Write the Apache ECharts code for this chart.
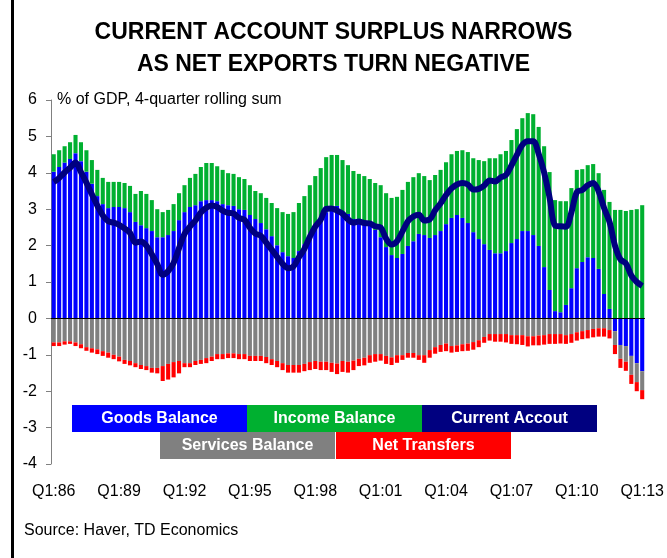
<!DOCTYPE html>
<html>
<head>
<meta charset="utf-8">
<script src="https://cdn.jsdelivr.net/npm/echarts@6/dist/echarts.min.js"></script>
<style>
  html, body { margin: 0; padding: 0; background: #fff; }
  #chart { width: 667px; height: 558px; }
</style>
</head>
<body>
<div id="chart"></div>
<script>
// quarterly categories, Q1:86 .. Q1:13
const years = ['86','87','88','89','90','91','92','93','94','95','96','97','98','99',
  '00','01','02','03','04','05','06','07','08','09','10','11','12','13']
const quarters = ['Q1','Q2','Q3','Q4']
const categories = []
years.forEach(y => quarters.forEach(q => categories.push(q + ':' + y)))
categories.length = 109

const yTicks = { min: -4, max: 6, interval: 1 }

// % of GDP, 4-quarter rolling sum
const goods = [
  4.03,4.16,4.28,4.38,4.54,4.32,4.03,3.70,3.36,3.14,3.03,3.06,
  3.06,3.03,2.92,2.65,2.56,2.48,2.40,2.23,2.23,2.29,2.40,2.70,
  2.92,3.06,3.11,3.22,3.25,3.25,3.22,3.14,3.11,3.09,3.00,2.98,
  2.84,2.73,2.62,2.45,2.26,2.01,1.82,1.71,1.66,1.85,2.04,2.32,
  2.54,2.76,2.92,3.09,3.09,2.87,2.87,2.73,2.62,2.62,2.59,2.43,
  2.23,1.96,1.74,1.66,1.77,1.99,2.12,2.32,2.29,2.21,2.29,2.40,
  2.59,2.76,2.84,2.76,2.62,2.37,2.18,2.04,1.88,1.79,1.79,1.85,
  2.07,2.18,2.40,2.40,2.29,1.99,1.41,0.78,0.20,0.17,0.37,0.83,
  1.38,1.55,1.68,1.66,1.36,0.67,0.26,-0.35,-0.73,-0.76,-1.03,-1.23,
  -1.45
]
const income = [
  0.48,0.46,0.45,0.46,0.50,0.52,0.59,0.65,0.72,0.72,0.72,0.69,
  0.69,0.69,0.72,0.77,0.94,0.94,0.85,0.77,0.69,0.69,0.74,0.74,
  0.74,0.80,0.86,0.94,1.02,1.02,0.96,0.94,0.88,0.88,0.88,0.85,
  0.82,0.77,0.82,0.86,0.91,1.02,1.10,1.16,1.26,1.32,1.32,1.34,
  1.37,1.37,1.51,1.40,1.40,1.48,1.34,1.32,1.35,1.29,1.24,1.29,
  1.43,1.48,1.57,1.68,1.76,1.76,1.76,1.67,1.62,1.59,1.65,1.68,
  1.70,1.75,1.76,1.86,1.95,2.03,2.17,2.28,2.52,2.61,2.72,2.75,
  2.83,3.02,3.10,3.24,3.32,3.27,3.32,3.24,3.05,3.05,2.85,2.75,
  2.70,2.55,2.53,2.58,2.63,2.86,2.94,2.98,2.98,2.95,2.98,3.00,
  3.11
]
const services = [
  -0.66,-0.66,-0.63,-0.63,-0.66,-0.71,-0.79,-0.82,-0.85,-0.90,-0.94,-1.00,
  -1.05,-1.14,-1.17,-1.23,-1.28,-1.31,-1.36,-1.36,-1.31,-1.25,-1.20,-1.17,
  -1.23,-1.23,-1.17,-1.14,-1.09,-1.05,-0.98,-0.98,-0.96,-0.96,-0.98,-0.98,
  -1.03,-1.03,-1.03,-1.06,-1.12,-1.17,-1.23,-1.28,-1.28,-1.28,-1.25,-1.20,
  -1.17,-1.19,-1.19,-1.22,-1.24,-1.17,-1.19,-1.16,-1.11,-1.08,-1.01,-0.98,
  -0.98,-1.03,-1.07,-1.01,-1.01,-0.95,-0.95,-1.01,-1.01,-0.87,-0.79,-0.73,
  -0.69,-0.76,-0.74,-0.71,-0.69,-0.65,-0.60,-0.51,-0.43,-0.43,-0.43,-0.43,
  -0.46,-0.46,-0.46,-0.49,-0.49,-0.47,-0.46,-0.43,-0.43,-0.43,-0.46,-0.43,
  -0.38,-0.35,-0.32,-0.29,-0.27,-0.27,-0.32,-0.38,-0.38,-0.43,-0.52,-0.52,
  -0.52
]
const transfers = [
  -0.10,-0.10,-0.09,-0.07,-0.10,-0.11,-0.10,-0.12,-0.13,-0.13,-0.14,-0.12,
  -0.13,-0.11,-0.12,-0.11,-0.11,-0.11,-0.13,-0.15,-0.41,-0.43,-0.42,-0.34,
  -0.11,-0.11,-0.11,-0.11,-0.14,-0.12,-0.14,-0.14,-0.13,-0.13,-0.14,-0.14,
  -0.14,-0.14,-0.14,-0.17,-0.16,-0.17,-0.19,-0.21,-0.21,-0.21,-0.20,-0.22,
  -0.22,-0.23,-0.23,-0.25,-0.29,-0.30,-0.30,-0.26,-0.20,-0.21,-0.21,-0.21,
  -0.18,-0.22,-0.21,-0.21,-0.13,-0.13,-0.13,-0.13,-0.21,-0.21,-0.18,-0.19,
  -0.21,-0.18,-0.18,-0.19,-0.20,-0.21,-0.19,-0.16,-0.18,-0.21,-0.21,-0.23,
  -0.24,-0.25,-0.27,-0.28,-0.25,-0.27,-0.26,-0.27,-0.27,-0.26,-0.24,-0.24,
  -0.23,-0.22,-0.23,-0.23,-0.23,-0.23,-0.23,-0.25,-0.25,-0.25,-0.25,-0.25,
  -0.25
]
const currentAccount = [
  3.75,3.86,4.01,4.14,4.28,4.02,3.73,3.41,3.10,2.83,2.67,2.63,
  2.57,2.47,2.35,2.08,2.11,2.00,1.76,1.49,1.20,1.30,1.52,1.93,
  2.32,2.52,2.69,2.91,3.04,3.10,3.06,2.96,2.90,2.88,2.76,2.71,
  2.49,2.33,2.27,2.08,1.89,1.69,1.50,1.38,1.43,1.68,1.91,2.24,
  2.52,2.71,3.01,3.02,2.96,2.88,2.72,2.63,2.66,2.62,2.61,2.53,
  2.50,2.19,2.03,2.12,2.39,2.67,2.80,2.85,2.69,2.72,2.97,3.16,
  3.39,3.57,3.68,3.72,3.68,3.54,3.56,3.65,3.79,3.76,3.87,3.94,
  4.20,4.49,4.77,4.87,4.87,4.52,4.01,3.32,2.55,2.53,2.52,2.91,
  3.47,3.53,3.66,3.72,3.49,3.03,2.65,2.00,1.62,1.51,1.18,1.00,
  0.89
]

const names = ['Goods Balance', 'Income Balance', 'Current Accout', 'Services Balance', 'Net Transfers']
const colors = ['#0000ff', '#00b030', '#000080', '#808080', '#ff0000']

const font = 'Liberation Sans, Arial, sans-serif'
const chart = echarts.init(document.getElementById('chart'))

// legend boxes drawn by hand: [series index, x, y]
const legendBoxes = [[0, 72, 405], [1, 247, 405], [2, 422, 405], [3, 160, 432], [4, 336, 432]]
const legendGraphics = []
legendBoxes.forEach(([i, x, y]) => {
  legendGraphics.push({
    type: 'rect', shape: { x: x, y: y, width: 175, height: 27 },
    style: { fill: colors[i] }, z: 10
  })
  legendGraphics.push({
    type: 'text', z: 11,
    style: {
      x: x + 87.5, y: y + 14, text: names[i], fill: '#fff',
      font: 'bold 16px ' + font, align: 'center', verticalAlign: 'middle'
    }
  })
})

const barSeries = (name, data, color) => ({
  name: name, type: 'bar', stack: 'ca', data: data,
  barCategoryGap: '25%',
  itemStyle: { color: color },
  animation: false
})

chart.setOption({
  animation: false,
  title: {
    text: 'CURRENT ACCOUNT SURPLUS NARROWS\nAS NET EXPORTS TURN NEGATIVE',
    left: 'center', top: 12,
    textStyle: { fontSize: 23, fontWeight: 'bold', fontFamily: font, color: '#000', lineHeight: 32 }
  },
  grid: { left: 51, right: 22, top: 100, bottom: 94 },
  xAxis: {
    type: 'category',
    data: categories,
    axisLine: { show: false, onZero: false },
    axisTick: { show: false },
    axisLabel: { interval: 11, fontSize: 16, fontFamily: font, color: '#000', margin: 20 }
  },
  yAxis: {
    type: 'value',
    min: yTicks.min, max: yTicks.max, interval: yTicks.interval,
    axisLine: { show: true, lineStyle: { color: '#808080' } },
    axisTick: { show: true, length: 5, lineStyle: { color: '#808080' } },
    splitLine: { show: false },
    axisLabel: { fontSize: 16, fontFamily: font, color: '#000', margin: 14 }
  },
  series: [
    Object.assign(barSeries(names[0], goods, colors[0]), {
      markLine: {
        silent: true, symbol: 'none', label: { show: false },
        lineStyle: { color: '#000', width: 1, type: 'solid' },
        data: [{ yAxis: 0 }]
      }
    }),
    barSeries(names[1], income, colors[1]),
    barSeries(names[3], services, colors[3]),
    barSeries(names[4], transfers, colors[4]),
    {
      name: names[2], type: 'line', data: currentAccount,
      smooth: 0.35, symbol: 'none', z: 5,
      lineStyle: { color: colors[2], width: 6 }
    }
  ],
  graphic: [
    {
      type: 'rect', shape: { x: 11, y: 0, width: 3, height: 558 },
      style: { fill: '#000' }
    },
    {
      type: 'text',
      style: { x: 57, y: 100, text: '% of GDP, 4-quarter rolling sum', fill: '#000',
        font: '16px ' + font, verticalAlign: 'middle' }
    },
    {
      type: 'text',
      style: { x: 24, y: 531, text: 'Source: Haver, TD Economics', fill: '#000',
        font: '16px ' + font, verticalAlign: 'middle' }
    }
  ].concat(legendGraphics)
})
</script>
</body>
</html>
